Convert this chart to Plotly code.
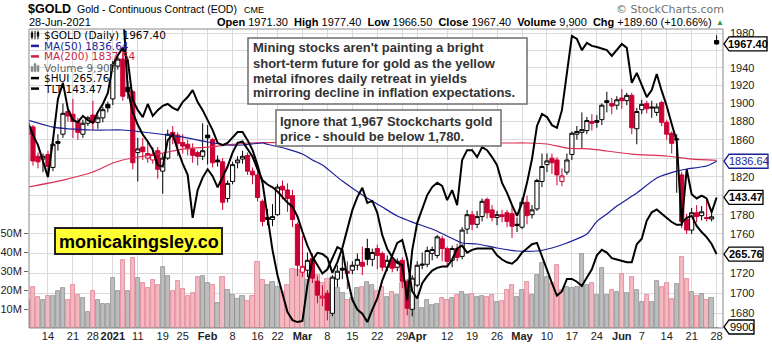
import math
import pandas as pd
import plotly.graph_objects as go

# ---------------- data ----------------
HOLIDAYS = ["2020-12-25", "2021-01-01", "2021-01-18", "2021-02-15", "2021-04-02", "2021-05-31"]
trade_days = [d.strftime("%Y-%m-%d") for d in pd.bdate_range("2020-12-08", "2021-06-28")]
trade_days = [d for d in trade_days if d not in HOLIDAYS]

gold_open = [
    1866, 1874, 1842, 1839, 1844, 1830, 1858, 1866, 1891, 1888,
    1880, 1866, 1878, 1887, 1879, 1884, 1899, 1905, 1942, 1950,
    1918, 1913, 1846, 1852, 1840, 1838, 1848, 1826, 1840, 1868,
    1865, 1857, 1855, 1850, 1846, 1842, 1865, 1860, 1838, 1836,
    1797, 1815, 1835, 1839, 1843, 1826, 1822, 1794, 1777, 1775,
    1780, 1810, 1806, 1800, 1770, 1721, 1723, 1735, 1712, 1695,
    1700, 1680, 1714, 1725, 1722, 1723, 1728, 1731, 1745, 1734,
    1745, 1740, 1726, 1733, 1726, 1733, 1712, 1684, 1708, 1728,
    1729, 1740, 1738, 1755, 1745, 1733, 1745, 1737, 1765, 1780,
    1770, 1778, 1796, 1785, 1777, 1780, 1782, 1781, 1770, 1767,
    1793, 1780, 1786, 1815, 1833, 1840, 1838, 1815, 1825, 1844,
    1866, 1868, 1870, 1880, 1879, 1882, 1903, 1900, 1898, 1906,
    1903, 1909, 1872, 1893, 1900, 1896, 1890, 1901, 1879, 1867,
    1861, 1822, 1775, 1764, 1782, 1779, 1777, 1775.5, 1971.3]
gold_high = [
    1876, 1876, 1846, 1845, 1848, 1857, 1866, 1900, 1895, 1905,
    1884, 1882, 1886, 1903, 1887, 1896, 1902, 1948, 1955, 1962,
    1925, 1915, 1862, 1862, 1857, 1852, 1852, 1845, 1871, 1875,
    1868, 1866, 1860, 1856, 1848, 1878, 1876, 1862, 1843, 1840,
    1816, 1836, 1842, 1848, 1846, 1830, 1827, 1796, 1786, 1791,
    1812, 1816, 1813, 1806, 1772, 1758, 1741, 1740, 1717, 1708,
    1703, 1718, 1728, 1738, 1732, 1732, 1740, 1747, 1755, 1745,
    1749, 1742, 1738, 1737, 1735, 1736, 1714, 1718, 1732, 1741,
    1747, 1747, 1759, 1758, 1747, 1748, 1750, 1767, 1785, 1784,
    1784, 1797, 1798, 1790, 1784, 1785, 1785, 1790, 1777, 1798,
    1800, 1790, 1818, 1845, 1845, 1845, 1841, 1829, 1845, 1869,
    1875, 1890, 1885, 1888, 1887, 1900, 1913, 1906, 1908, 1916,
    1912, 1912, 1895, 1904, 1903, 1903, 1900, 1903, 1882, 1869,
    1866, 1825, 1781, 1787, 1790, 1789, 1797, 1785, 1977.4]
gold_low = [
    1860, 1832, 1829, 1825, 1821, 1826, 1848, 1862, 1880, 1862,
    1860, 1862, 1875, 1870, 1872, 1879, 1890, 1898, 1938, 1903,
    1905, 1828, 1815, 1838, 1835, 1834, 1818, 1802, 1838, 1855,
    1842, 1845, 1843, 1835, 1832, 1838, 1833, 1830, 1831, 1785,
    1793, 1812, 1829, 1834, 1822, 1812, 1794, 1768, 1769, 1768,
    1779, 1796, 1783, 1767, 1717, 1716, 1716, 1710, 1690, 1687,
    1673, 1677, 1706, 1714, 1704, 1719, 1723, 1718, 1728, 1727,
    1724, 1722, 1722, 1721, 1722, 1705, 1678, 1677, 1706, 1724,
    1726, 1733, 1735, 1732, 1727, 1726, 1732, 1734, 1760, 1764,
    1766, 1773, 1776, 1773, 1769, 1772, 1767, 1756, 1762, 1765,
    1770, 1776, 1784, 1809, 1825, 1823, 1811, 1810, 1822, 1838,
    1860, 1851, 1866, 1870, 1873, 1876, 1890, 1888, 1893, 1894,
    1898, 1866, 1855, 1888, 1889, 1884, 1886, 1875, 1860, 1845,
    1803, 1766, 1760, 1760, 1772, 1774, 1773, 1773, 1966.5]
gold_close = [
    1874, 1837, 1836, 1842, 1831, 1855, 1856, 1889, 1886, 1880,
    1868, 1878, 1884, 1879, 1884, 1893, 1895, 1944, 1950, 1908,
    1913, 1835, 1850, 1847, 1845, 1844, 1828, 1840, 1866, 1864,
    1856, 1853, 1850, 1843, 1842, 1848, 1862, 1835, 1836, 1793,
    1813, 1833, 1838, 1842, 1826, 1822, 1798, 1773, 1775, 1778,
    1809, 1806, 1797, 1775, 1728, 1727, 1733, 1715, 1698, 1697,
    1683, 1716, 1722, 1723, 1720, 1728, 1734, 1727, 1734, 1741,
    1738, 1726, 1733, 1725, 1732, 1712, 1685, 1715, 1728, 1729,
    1743, 1744, 1757, 1745, 1732, 1745, 1736, 1764, 1780, 1770,
    1778, 1794, 1782, 1777, 1780, 1778, 1773, 1768, 1769, 1793,
    1779, 1785, 1816, 1831, 1837, 1835, 1822, 1821, 1838, 1867,
    1869, 1871, 1881, 1878, 1881, 1898, 1901, 1897, 1904, 1903,
    1909, 1873, 1891, 1899, 1894, 1895, 1896, 1879, 1866, 1856,
    1860, 1773, 1764, 1782, 1778, 1783, 1776, 1777.8, 1967.4]
volume_m = [
    14.7, 21.6, 16.3, 14.7, 16.8, 16.8, 19.5, 21.0, 14.7, 22.6,
    17.4, 15.8, 8.4, 19.5, 14.7, 12.6, 12.6, 26.3, 19.5, 35.8,
    19.5, 36.8, 26.3, 23.7, 21.0, 25.3, 22.6, 32.1, 27.4, 19.5,
    24.7, 20.5, 16.8, 18.4, 26.8, 27.4, 23.7, 22.6, 13.2, 26.8,
    20.0, 17.4, 15.3, 17.0, 14.2, 16.8, 34.7, 25.3, 22.6, 24.2,
    21.6, 19.0, 22.6, 31.0, 30.5, 28.9, 25.3, 26.8, 27.9, 23.7,
    25.8, 22.6, 21.0, 18.4, 14.7, 15.8, 21.0, 21.6, 24.2, 22.6,
    19.5, 21.6, 16.3, 19.0, 17.4, 23.7, 24.2, 19.0, 16.3, 10.5,
    14.7, 12.1, 12.6, 15.8, 14.7, 15.8, 17.4, 19.0, 17.4, 17.7,
    16.3, 16.8, 16.3, 17.4, 13.8, 14.2, 20.0, 22.6, 16.5, 20.0,
    24.4, 17.4, 27.9, 34.0, 27.0, 23.5, 33.2, 20.0, 21.7, 20.9,
    21.7, 38.9, 22.6, 23.5, 17.4, 31.4, 17.4, 20.0, 19.1, 28.4,
    18.2, 26.7, 20.0, 13.8, 17.4, 13.8, 24.7, 21.7, 23.9, 15.1,
    23.2, 37.5, 25.6, 19.1, 16.8, 17.7, 14.7, 15.6, 0.0099]
hui = [
    300.1, 296.7, 294.1, 290.2, 285.8, 295.4, 306.1, 310.3, 303.5, 300.6,
    300.1, 301.7, 300.6, 299.9, 302.7, 304.8, 307.7, 314.9, 317.5, 319.4,
    316.2, 305.8, 303.2, 301.4, 304.8, 301.7, 303.2, 304.3, 304.8, 303.8,
    303.2, 305.3, 306.6, 308.4, 305.3, 303.2, 300.6, 298.0, 294.7, 294.1,
    294.7, 296.0, 297.5, 297.5, 295.4, 292.8, 288.9, 284.3, 276.0, 266.8,
    260.3, 255.1, 250.7, 248.6, 248.1, 248.4, 257.7, 264.2, 266.1, 265.8,
    264.8, 260.9, 263.7, 267.4, 272.0, 277.2, 280.6, 283.0, 279.1, 279.6,
    276.5, 270.7, 267.1, 265.0, 263.5, 262.9, 253.8, 266.8, 273.9, 277.8,
    281.1, 283.2, 284.3, 283.5, 279.8, 282.4, 278.5, 290.2, 292.8, 292.8,
    291.0, 293.6, 292.8, 291.0, 288.9, 284.3, 281.7, 278.5, 275.7, 279.1,
    284.3, 290.5, 299.1, 302.2, 301.4, 299.3, 298.6, 303.2, 312.3, 322.5,
    321.7, 318.8, 320.7, 319.9, 319.6, 319.1, 318.8, 317.3, 318.8, 320.4,
    319.4, 310.3, 312.9, 309.7, 306.6, 308.4, 312.6, 308.2, 304.3, 299.6,
    295.2, 273.9, 275.2, 275.7, 273.1, 271.5, 270.2, 268.4, 265.76]
tlt = [
    157.3, 157.3, 157.3, 157.3, 157.3, 157.3, 157.3, 157.3, 157.3, 157.3,
    157.3, 157.3, 157.3, 157.3, 157.3, 157.3, 157.3, 157.3, 157.3, 157.3,
    151.2, 149.6, 148.7, 148.0, 147.5, 146.9, 145.8, 145.7, 147.6, 148.0,
    146.9, 145.9, 145.1, 142.0, 144.0, 144.9, 145.5, 145.0, 144.2, 144.9,
    145.7, 146.7, 147.4, 147.5, 146.9, 146.4, 145.5, 144.7, 144.4, 144.2,
    143.9, 143.5, 143.1, 142.8, 142.1, 141.0, 140.0, 139.2, 138.6, 138.0,
    138.3, 139.1, 139.9, 139.7, 137.7, 136.1, 135.4, 135.1, 134.5, 135.4,
    136.2, 137.5, 138.4, 139.3, 140.2, 140.4, 139.0, 136.7, 136.2, 137.3,
    137.8, 138.2, 138.4, 138.5, 138.5, 139.0, 139.8, 140.0, 139.5, 139.7,
    139.8, 139.8, 139.8, 139.8, 139.3, 139.0, 138.8, 138.7, 139.0, 139.5,
    139.8, 140.1, 140.2, 139.2, 138.3, 137.3, 136.4, 136.7, 137.6, 137.6,
    137.4, 137.1, 137.7, 138.3, 139.3, 139.7, 139.5, 139.1, 139.0, 138.9,
    138.8, 138.8, 140.1, 140.5, 141.8, 142.4, 142.6, 142.3, 142.0, 141.7,
    141.5, 141.5, 145.5, 143.7, 143.4, 143.6, 143.4, 142.4, 143.47]

ma50_dates = ["2020-12-08", "2020-12-15", "2020-12-28", "2021-01-06", "2021-01-12", "2021-01-20",
              "2021-01-25", "2021-02-01", "2021-02-05", "2021-02-10", "2021-02-17", "2021-02-18",
              "2021-02-24", "2021-03-01", "2021-03-03", "2021-03-05", "2021-03-11", "2021-03-17",
              "2021-03-23", "2021-03-26", "2021-03-31", "2021-04-07", "2021-04-12", "2021-04-15",
              "2021-04-20", "2021-04-26", "2021-04-30", "2021-05-06", "2021-05-11", "2021-05-14",
              "2021-05-20", "2021-05-24", "2021-05-26", "2021-05-28", "2021-06-04", "2021-06-10",
              "2021-06-16", "2021-06-18", "2021-06-24", "2021-06-28"]
ma50_vals = [1881.5, 1873.8, 1870.6, 1870.6, 1868.4, 1865.1,
             1862.9, 1857.5, 1854.2, 1854.2, 1856.4, 1855.0,
             1849.8, 1844.4, 1838.0, 1832.6, 1815.4, 1800.7,
             1788.0, 1778.6, 1772.3, 1765.1, 1757.9, 1750.7,
             1749.7, 1745.6, 1742.5, 1742.5, 1745.6, 1750.7,
             1759.9, 1773.0, 1780.7, 1789.0, 1802.8, 1818.7,
             1826.0, 1828.3, 1831.5, 1836.64]
ma200_dates = ["2020-12-08", "2020-12-17", "2020-12-28", "2021-01-04", "2021-01-06", "2021-01-11",
               "2021-01-19", "2021-01-25", "2021-02-01", "2021-02-05", "2021-02-11", "2021-02-18",
               "2021-03-12", "2021-04-05", "2021-04-27", "2021-05-04", "2021-05-10", "2021-05-14",
               "2021-05-21", "2021-05-26", "2021-06-03", "2021-06-14", "2021-06-21", "2021-06-28"]
ma200_vals = [1809.1, 1816.5, 1825.1, 1834.7, 1838.0, 1841.2,
              1845.5, 1849.8, 1852.0, 1854.2, 1856.4, 1856.8,
              1858.0, 1858.0, 1856.4, 1856.4, 1855.3, 1850.9,
              1849.8, 1847.7, 1844.4, 1842.3, 1839.0, 1837.64]

tick_dates = ["2020-12-14", "2020-12-21", "2020-12-28", "2021-01-04", "2021-01-11", "2021-01-19",
              "2021-01-25", "2021-02-01", "2021-02-08", "2021-02-16", "2021-02-22", "2021-03-01",
              "2021-03-08", "2021-03-15", "2021-03-22", "2021-03-29", "2021-04-01", "2021-04-12",
              "2021-04-19", "2021-04-26", "2021-05-03", "2021-05-10", "2021-05-17", "2021-05-24",
              "2021-06-01", "2021-06-07", "2021-06-14", "2021-06-21", "2021-06-28"]
tick_labels = ["14", "21", "28", "<b>2021</b>", "11", "19", "25", "<b>Feb</b>", "8", "16", "22",
               "<b>Mar</b>", "8", "15", "22", "29", "<b>Apr</b>", "12", "19", "26", "<b>May</b>",
               "10", "17", "24", "<b>Jun</b>", "7", "14", "21", "28"]
price_ticks = [1680, 1700, 1720, 1740, 1760, 1780, 1800, 1820, 1840, 1860, 1880, 1900, 1920, 1940, 1960, 1980]
price_tick_text = ["1680", "1700", "1720", "", "1760", "1780", "", "1820", "", "1860", "1880", "1900",
                   "1920", "1940", "", "1980"]
vol_ticks = [10, 20, 30, 40, 50]

note_main = ["Mining stocks aren't painting a bright",
             "short-term future for gold as the yellow",
             "metal ifnores daily retreat in yields",
             "mirroring decline in inflation expectations."]
note_side = ["Ignore that 1,967 Stockcharts gold",
             "price - should be below 1,780."]

# ---------------- geometry ----------------
W, H = 772, 344
L, R, T, B = 29, 723, 29, 328
X0, X1 = -3.8, 135.28
PRICE_LO, PRICE_HI = 1665.6, 1984.7
VOL_TOP = 157.4
HUI_LO, HUI_HI = 246.56, 324.3
TLT_LO, TLT_HI = 134.07, 155.6

SANS = "Liberation Sans, Arial, sans-serif"
VERD = "DejaVu Sans, Verdana, sans-serif"
RED = "#cc0033"

n = len(trade_days)
origin = trade_days.index("2020-12-14")
xpos = [k - origin for k in range(n)]
day_pos = dict(zip(trade_days, xpos))

prev_close = [None] + gold_close[:-1]
up_day = [True if p is None else c >= p for c, p in zip(gold_close, prev_close)]


def px(x):
    return (x - L) / (R - L)


def py(y):
    return (B - y) / (B - T)


fig = go.Figure()

# volume (base axis, drawn first)
fig.add_trace(go.Bar(
    x=xpos, y=volume_m, width=0.86,
    marker=dict(color=["#bdbdbd" if u else "#f3b9c1" for u in up_day],
                line=dict(color=["#8e8e8e" if u else "#df7f8f" for u in up_day], width=0.8)),
    hoverinfo="skip", xaxis="x", yaxis="y"))

# candles: black group (close >= previous close) and red group
for flag, col in ((True, "#000000"), (False, RED)):
    sel = [k for k in range(n) if up_day[k] == flag]
    fig.add_trace(go.Candlestick(
        x=[xpos[k] for k in sel],
        open=[gold_open[k] for k in sel], high=[gold_high[k] for k in sel],
        low=[gold_low[k] for k in sel], close=[gold_close[k] for k in sel],
        increasing=dict(line=dict(color=col, width=1), fillcolor="#ffffff"),
        decreasing=dict(line=dict(color=col, width=1), fillcolor=col),
        whiskerwidth=0, hoverinfo="skip", xaxis="x", yaxis="y2"))

fig.add_trace(go.Scatter(x=[day_pos[d] for d in ma200_dates], y=ma200_vals, mode="lines",
                         line=dict(color="#dc2f55", width=1.2, shape="spline", smoothing=0.6),
                         hoverinfo="skip", xaxis="x", yaxis="y2"))
fig.add_trace(go.Scatter(x=[day_pos[d] for d in ma50_dates], y=ma50_vals, mode="lines",
                         line=dict(color="#1b1f9a", width=1.2, shape="spline", smoothing=0.6),
                         hoverinfo="skip", xaxis="x", yaxis="y2"))
fig.add_trace(go.Scatter(x=xpos, y=hui, mode="lines", line=dict(color="#000000", width=2),
                         hoverinfo="skip", xaxis="x", yaxis="y3"))
fig.add_trace(go.Scatter(x=xpos, y=tlt, mode="lines", line=dict(color="#000000", width=2),
                         hoverinfo="skip", xaxis="x", yaxis="y4"))

shapes = []
ann = []


def text(x, y, s, size=11, color="#222", family=SANS, anchor="left", yanchor="middle"):
    ann.append(dict(xref="paper", yref="paper", x=px(x), y=py(y), text=s, showarrow=False,
                    xanchor=anchor, yanchor=yanchor, borderpad=0,
                    font=dict(family=family, size=size, color=color)))


def rect(x0, y0, x1, y1, fill, line, width=1.0, layer="above"):
    shapes.append(dict(type="rect", xref="paper", yref="paper", x0=px(x0), x1=px(x1), y0=py(y1), y1=py(y0),
                       fillcolor=fill, line=dict(color=line, width=width), layer=layer))


def seg(x0, y0, x1, y1, color, width):
    shapes.append(dict(type="line", xref="paper", yref="paper", x0=px(x0), x1=px(x1), y0=py(y0), y1=py(y1),
                       line=dict(color=color, width=width), layer="above"))


# plot frame
rect(L, T, R, B, "rgba(0,0,0,0)", "#8a8a8a", 1)

# header
text(27, 9.5, "<b>$GOLD</b>", 12.5, "#000")
text(76, 9.5, "Gold - Continuous Contract (EOD)", 10.5, "#000")
text(243, 10, "CME", 9, "#000")
text(28, 22.5, "28-Jun-2021", 11, "#000")
last = n - 1
chg = gold_close[last] - gold_close[last - 1]
pct = chg / gold_close[last - 1] * 100
vol_units = int(round(volume_m[last] * 1e6))
sp, sp2 = "\u00a0", "\u00a0\u00a0"
hdr = (f"<b>Open</b>{sp}{gold_open[last]:.2f}{sp2}<b>High</b>{sp}{gold_high[last]:.2f}{sp2}"
       f"<b>Low</b>{sp}{gold_low[last]:.2f}{sp2}<b>Close</b>{sp}{gold_close[last]:.2f}{sp2}"
       f"<b>Volume</b>{sp}{vol_units:,}{sp2}<b>Chg</b>{sp}{chg:+.2f}{sp}({pct:+.2f}%)")
text(713, 22.5, hdr, 11, "#000", anchor="right")
text(720, 22, "\u25B2", 8, "#2f9a36", anchor="center")
text(725, 9.5, "\u00a9 StockCharts.com", 11, "#6f6f6f", family=VERD, anchor="right")

# legend inside plot
rows = [35.3, 45.9, 56.4, 67.6, 78.1, 88.6]
legend_items = [
    (f"$GOLD (Daily) {gold_close[last]:.2f}", "#000000"),
    (f"MA(50) {ma50_vals[-1]:.2f}", "#1b1f9a"),
    (f"MA(200) {ma200_vals[-1]:.2f}", "#cc1f45"),
    (f"Volume {vol_units:,}", "#666666"),
    (f"$HUI {hui[-1]:.2f}", "#000000"),
    (f"TLT {tlt[-1]:.2f}", "#000000"),
]
for (label, col), yr in zip(legend_items, rows):
    text(42.5, yr, label, 10.5, col, family=VERD)
# icons
for xx in (32, 35, 38):
    seg(xx, rows[0] - 4.5, xx, rows[0] + 4, "#000", 1)
rect(31.2, rows[0] - 2.5, 32.8, rows[0] + 2, "#000", "#000", 0.5)
rect(37.2, rows[0] - 3, 38.8, rows[0] + 1, "#000", "#000", 0.5)
seg(31, rows[1], 39, rows[1], "#1b1f9a", 2.5)
seg(31, rows[2], 39, rows[2], "#cc1f45", 2.5)
rect(31, rows[3] - 1, 33, rows[3] + 4, "#888", "#888", 0.5)
rect(34, rows[3] - 4, 36, rows[3] + 4, "#888", "#888", 0.5)
rect(37, rows[3] - 2, 39, rows[3] + 4, "#888", "#888", 0.5)
seg(31, rows[4], 39, rows[4], "#000", 2.5)
seg(31, rows[5], 39, rows[5], "#000", 2.5)

# comment boxes
rect(248, 38, 527, 104, "#ffffff", "#6e6e6e", 1.5)
for s, yy in zip(note_main, [48, 63, 78, 92.5]):
    text(252, yy, f"<b>{s}</b>", 13, "#333333")
rect(276, 110, 501, 146, "#ffffff", "#6e6e6e", 1.5)
for s, yy in zip(note_side, [121.5, 136]):
    text(279, yy, f"<b>{s}</b>", 13, "#333333")

# watermark box
rect(55, 228, 222, 254, "#ffff33", "#222222", 2)
text(138.5, 241.5, "<b>monicakingsley.co</b>", 18, "#000", anchor="center")


# right-side value tags
def tag(paper_y, xr, label, color, bold=True, dy=0.0):
    yc = B - paper_y * (B - T) + dy
    pts = [(724, yc), (729, yc - 7), (xr, yc - 7), (xr, yc + 7), (729, yc + 7)]
    path = "M " + " L ".join(f"{px(a):.5f},{py(b):.5f}" for a, b in pts) + " Z"
    shapes.append(dict(type="path", xref="paper", yref="paper", path=path, fillcolor="#ffffff",
                       line=dict(color=color, width=1.3), layer="above"))
    s = f"<b>{label}</b>" if bold else label
    text((729 + xr) / 2, yc, s, 11, "#000" if color == "#000" else color, anchor="center")


def price_paper(p):
    return (math.log10(p) - math.log10(PRICE_LO)) / (math.log10(PRICE_HI) - math.log10(PRICE_LO))


tag(price_paper(gold_close[last]), 767, f"{gold_close[last]:.2f}", "#000")
tag(price_paper(ma50_vals[-1]), 768, f"{ma50_vals[-1]:.2f}", "#1b1f9a", bold=False)
tag((tlt[-1] - TLT_LO) / (TLT_HI - TLT_LO), 763, f"{tlt[-1]:.2f}", "#000")
tag((hui[-1] - HUI_LO) / (HUI_HI - HUI_LO), 763, f"{hui[-1]:.2f}", "#000")
tag(volume_m[last] / VOL_TOP, 754, f"{vol_units}", "#000", bold=False, dy=-1)

tickfont = dict(family=SANS, size=11, color="#222")
fig.update_layout(
    width=W, height=H,
    margin=dict(l=L, r=W - R, t=T, b=H - B, pad=0, autoexpand=False),
    paper_bgcolor="#ffffff", plot_bgcolor="#ffffff",
    showlegend=False, hovermode=False,
    boxgap=0.12, boxgroupgap=0.05, bargap=0,
    xaxis=dict(range=[X0, X1], tickvals=[day_pos[d] for d in tick_dates], ticktext=tick_labels,
               tickangle=0, automargin=False,
               showgrid=True, gridcolor="#dadada", gridwidth=1, zeroline=False, showline=False,
               ticks="", tickfont=tickfont, rangeslider=dict(visible=False), fixedrange=True),
    yaxis=dict(range=[0, VOL_TOP], side="left", tickvals=vol_ticks, automargin=False,
               ticktext=[f"{v}M" for v in vol_ticks], showgrid=False, zeroline=False,
               ticks="outside", ticklen=4, tickcolor="#666", tickfont=tickfont, showline=False),
    yaxis2=dict(type="log", range=[math.log10(PRICE_LO), math.log10(PRICE_HI)], overlaying="y",
                side="right", anchor="x", tickvals=price_ticks, ticktext=price_tick_text,
                automargin=False,
                showgrid=True, gridcolor="#dadada", gridwidth=1, zeroline=False, ticks="",
                tickfont=tickfont, ticklabelstandoff=6, showline=False),
    yaxis3=dict(range=[HUI_LO, HUI_HI], overlaying="y", anchor="x", visible=False),
    yaxis4=dict(range=[TLT_LO, TLT_HI], overlaying="y", anchor="x", visible=False),
    shapes=shapes, annotations=ann,
)

fig.write_html("out.html")
